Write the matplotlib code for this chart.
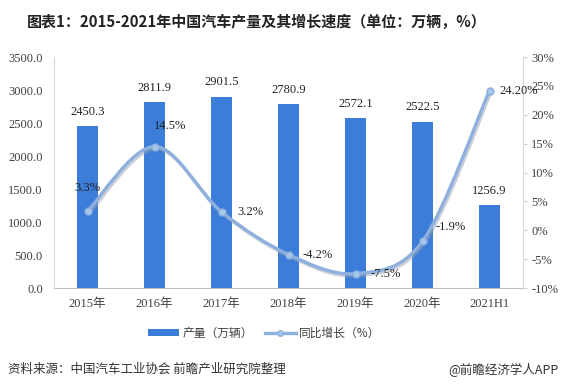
import matplotlib
matplotlib.use("Agg")
import matplotlib.pyplot as plt
from matplotlib.path import Path
from matplotlib.patches import PathPatch, Patch
from matplotlib.lines import Line2D
import matplotlib.patheffects as pe
import numpy as np

categories = ["2015年", "2016年", "2017年", "2018年", "2019年", "2020年", "2021H1"]
production = [2450.3, 2811.9, 2901.5, 2780.9, 2572.1, 2522.5, 1256.9]
growth = [3.3, 14.5, 3.2, -4.2, -7.5, -1.9, 24.2]
growth_labels = ["3.3%", "14.5%", "3.2%", "-4.2%", "-7.5%", "-1.9%", "24.20%"]
left_ticks = [0, 500, 1000, 1500, 2000, 2500, 3000, 3500]
right_ticks = [-10, -5, 0, 5, 10, 15, 20, 25, 30]

SERIF = ["Liberation Serif", "Noto Sans CJK SC"]
CJK = ["Noto Sans CJK SC", "DejaVu Sans"]
plt.rcParams["font.family"] = CJK

BAR_C = "#3B7DD8"
LINE_C = "#8DB0DE"
TXT = "#404040"

fig = plt.figure(figsize=(5.65, 3.9), dpi=100)
ax = fig.add_axes([0.0956, 0.2615, 0.9257 - 0.0956, 0.8538 - 0.2615])
ax2 = ax.twinx()

x = np.arange(len(categories))
ax.bar(x, production, width=0.32, color=BAR_C, zorder=2)
for xi, v in zip(x, production):
    ax.annotate(f"{v:.1f}", (xi, v), xytext=(0, 6), textcoords="offset points",
                ha="center", va="bottom", fontsize=9, color="#222222", family=SERIF)

ax.set_xlim(-0.5, len(categories) - 0.5)
ax.set_ylim(0, 3500)
ax.set_yticks(left_ticks)
ax.set_yticklabels([f"{t:.1f}" for t in left_ticks], family=SERIF, fontsize=9, color=TXT)
ax.set_xticks(x)
ax.set_xticklabels(categories, family=SERIF, fontsize=9, color=TXT)
ax.tick_params(axis="y", length=0, pad=8)
ax.tick_params(axis="x", length=0, pad=7)

ax2.set_ylim(-10, 30)
ax2.set_yticks(right_ticks)
ax2.set_yticklabels([f"{t}%" for t in right_ticks], family=SERIF, fontsize=9, color=TXT)
ax2.tick_params(axis="y", length=3, color="#D0D0D0", pad=3)

for a in (ax, ax2):
    a.spines["top"].set_visible(False)
    a.spines["left"].set_color("#D9D9D9")
    a.spines["right"].set_color("#D9D9D9")
    a.spines["bottom"].set_color("#BFBFBF")
ax2.spines["bottom"].set_visible(False)
ax.spines["right"].set_visible(False)
ax2.spines["left"].set_visible(False)

# smoothed line via Catmull-Rom -> cubic Bezier
px = np.array(x, dtype=float)
py = np.array(growth, dtype=float)
verts = [(px[0], py[0])]
codes = [Path.MOVETO]
n = len(px)
t = 0.5
for i in range(n - 1):
    p0 = (px[i - 1], py[i - 1]) if i > 0 else (px[i], py[i])
    p1 = (px[i], py[i])
    p2 = (px[i + 1], py[i + 1])
    p3 = (px[i + 2], py[i + 2]) if i + 2 < n else (px[i + 1], py[i + 1])
    c1 = (p1[0] + (p2[0] - p0[0]) * t / 3, p1[1] + (p2[1] - p0[1]) * t / 3)
    c2 = (p2[0] - (p3[0] - p1[0]) * t / 3, p2[1] - (p3[1] - p1[1]) * t / 3)
    verts += [c1, c2, p2]
    codes += [Path.CURVE4] * 3
patch = PathPatch(Path(verts, codes), facecolor="none", edgecolor=LINE_C, lw=2.4,
                  transform=ax2.transData, zorder=3, capstyle="round",
                  path_effects=[pe.SimpleLineShadow(offset=(1, -1.5), shadow_color="#9aa3b0", alpha=0.5),
                                pe.Normal()])
ax2.add_patch(patch)
ax2.plot(x, growth, linestyle="none", marker="o", ms=5, color="#A7C6EC",
         markeredgecolor="#8DB0DE", zorder=4)

offsets = [(0, 17), (11, 15), (21, 0), (21, 0), (22, 0), (20, 10), (21, 0)]
for xi, yi, lab, off in zip(x, growth, growth_labels, offsets):
    ax2.annotate(lab, (xi, yi), xytext=off, textcoords="offset points",
                 ha="center", va="center", fontsize=9, color="#222222", family=SERIF, zorder=5)

fig.text(0.455, 0.944, "图表1：2015-2021年中国汽车产量及其增长速度（单位：万辆，%）",
         ha="center", va="center", fontsize=10.8, fontweight="bold", color="#222222", family=CJK)

handles = [Patch(facecolor=BAR_C, edgecolor="none"),
           Line2D([], [], color=LINE_C, lw=2.4, marker="o", ms=4, markerfacecolor="#A7C6EC",
                  markeredgecolor="#8DB0DE")]
leg = fig.legend(handles, ["产量（万辆）", "同比增长（%）"], loc="center", bbox_to_anchor=(0.468, 0.146),
                 ncol=2, frameon=False, fontsize=8.5, handlelength=2.6, handleheight=0.5,
                 columnspacing=1.0, handletextpad=0.3)
for txt in leg.get_texts():
    txt.set_color("#404040")

fig.text(0.014, 0.052, "资料来源：中国汽车工业协会 前瞻产业研究院整理", ha="left", va="center",
         fontsize=9, color="#333333", family=CJK)
fig.text(0.988, 0.052, "@前瞻经济学人APP", ha="right", va="center",
         fontsize=9, color="#333333", family=CJK)

fig.savefig("out.png", dpi=100)
